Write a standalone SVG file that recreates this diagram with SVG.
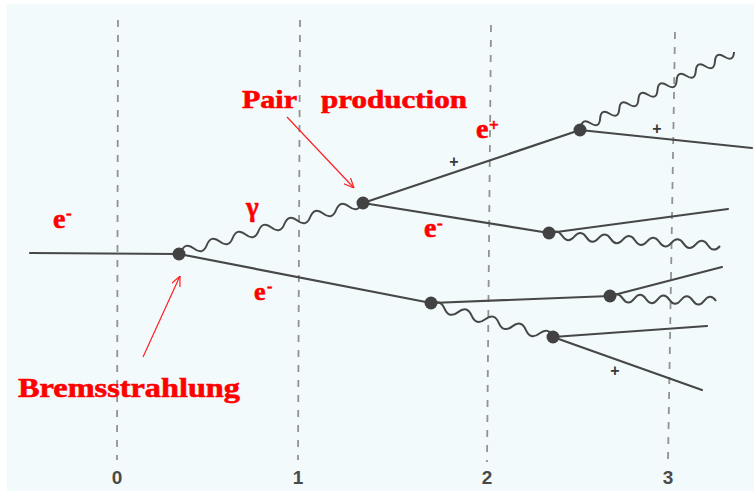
<svg xmlns="http://www.w3.org/2000/svg" width="754" height="491" viewBox="0 0 754 491">
<style>
.grid{stroke:#929292;stroke-width:1.8;stroke-dasharray:7 8;fill:none}
.el{stroke:#474747;stroke-width:2.2;fill:none;stroke-linecap:round}
.ph{stroke:#474747;stroke-width:2;fill:none}
.dot{fill:#424242}
.lbl{font-family:"Liberation Serif","Times New Roman",serif;font-weight:bold;fill:#ff0000;stroke:#ff0000;stroke-width:0.6}
.num{font-family:"Liberation Sans",Arial,sans-serif;font-weight:bold;fill:#4a4a4a;font-size:19px;text-anchor:middle}
.plus{font-family:"Liberation Sans",Arial,sans-serif;font-weight:bold;fill:#3a3a3a;font-size:16px;text-anchor:middle}
.arr{stroke:#ff2020;stroke-width:1.2;fill:none}
</style>
<defs>
<marker id="ah" viewBox="0 0 10 10" refX="10" refY="5" markerWidth="10" markerHeight="10" markerUnits="userSpaceOnUse" orient="auto">
<path d="M0,0.5 L10,5 L0,9.5" fill="none" stroke="#ff2020" stroke-width="1.2"/>
</marker>
</defs>
<rect width="754" height="491" fill="#ffffff"/>
<rect x="7" y="4" width="747" height="487" fill="#f3fafc"/>
<g id="axis">
<line class="grid" x1="118" y1="20" x2="117" y2="460"/>
<line class="grid" x1="300" y1="20" x2="298" y2="460"/>
<line class="grid" x1="491" y1="25" x2="487" y2="462"/>
<line class="grid" x1="675" y1="32" x2="668" y2="462"/>
<text class="num" x="117" y="484">0</text>
<text class="num" x="298" y="484">1</text>
<text class="num" x="487" y="484">2</text>
<text class="num" x="668" y="484">3</text>
</g>
<g id="connectors">
<line class="el" x1="30" y1="253" x2="179" y2="254"/>
<line class="el" x1="179" y1="254" x2="431" y2="303"/>
<line class="el" x1="363" y1="203" x2="580" y2="130"/>
<line class="el" x1="363" y1="203" x2="549" y2="233"/>
<line class="el" x1="580" y1="130" x2="752" y2="148"/>
<line class="el" x1="549" y1="233" x2="728" y2="209"/>
<line class="el" x1="431" y1="303" x2="610" y2="296"/>
<line class="el" x1="610" y1="296" x2="722" y2="267"/>
<line class="el" x1="553" y1="337" x2="707" y2="326"/>
<line class="el" x1="553" y1="337" x2="702" y2="390"/>
<path class="ph" transform="translate(181,252) rotate(-15.15)" d="M0,0 q6.7,-9 13.39,0 t13.39,0 t13.39,0 t13.39,0 t13.39,0 t13.39,0 t13.39,0 t13.39,0 t13.39,0 t13.39,0 t13.39,0 t13.39,0 t13.39,0 t13.39,0"/>
<path class="ph" transform="translate(581,128) rotate(-26.41)" d="M0,0 q5.34,-9 10.68,0 t10.68,0 t10.68,0 t10.68,0 t10.68,0 t10.68,0 t10.68,0 t10.68,0 t10.68,0 t10.68,0 t10.68,0 t10.68,0 t10.68,0 t10.68,0 t10.68,0 t10.68,0"/>
<path class="ph" transform="translate(550,235) rotate(3.70)" d="M0,0 q6.08,-8 12.17,0 t12.17,0 t12.17,0 t12.17,0 t12.17,0 t12.17,0 t12.17,0 t12.17,0 t12.17,0 t12.17,0 t12.17,0 t12.17,0 t12.17,0 t12.17,0"/>
<path class="ph" transform="translate(431,305) rotate(14.70)" d="M0,0 q7,-9 14.01,0 t14.01,0 t14.01,0 t14.01,0 t14.01,0 t14.01,0 t14.01,0 t14.01,0 t14.01,0"/>
<path class="ph" transform="translate(611,298) rotate(1.64)" d="M0,0 q5.83,-8 11.67,0 t11.67,0 t11.67,0 t11.67,0 t11.67,0 t11.67,0 t11.67,0 t11.67,0 t11.67,0"/>
<line class="arr" x1="143" y1="357" x2="180" y2="276" marker-end="url(#ah)"/>
<line class="arr" x1="287" y1="117" x2="354" y2="188" marker-end="url(#ah)"/>
</g>
<g id="v1"><circle class="dot" cx="179" cy="254" r="6.5"/></g>
<g id="v2"><circle class="dot" cx="363" cy="203" r="6.5"/></g>
<g id="v3"><circle class="dot" cx="580" cy="130" r="6.5"/></g>
<g id="v4"><circle class="dot" cx="549" cy="233" r="6.5"/></g>
<g id="v5"><circle class="dot" cx="431" cy="303" r="6.5"/></g>
<g id="v6"><circle class="dot" cx="610" cy="296" r="6.5"/></g>
<g id="v7"><circle class="dot" cx="553" cy="337" r="6.5"/></g>
<g id="plus-signs">
<text class="plus" x="454" y="167">+</text>
<text class="plus" x="657" y="134">+</text>
<text class="plus" x="615" y="376">+</text>
</g>
<g id="labels">
<text class="lbl" font-size="28" x="53" y="228">e<tspan font-size="17" x="66" y="219">-</tspan></text>
<text class="lbl" font-size="26" x="254" y="300">e<tspan font-size="16" x="267" y="292">-</tspan></text>
<text class="lbl" font-size="28" x="424" y="237">e<tspan font-size="17" x="437" y="229">-</tspan></text>
<text class="lbl" font-size="28" x="476" y="138">e<tspan font-size="17" x="489" y="131">+</tspan></text>
<text class="lbl" font-size="27" x="246" y="216">γ</text>
<text class="lbl" font-size="25" x="242" y="108" textLength="55" lengthAdjust="spacingAndGlyphs">Pair</text>
<text class="lbl" font-size="25" x="321" y="108" textLength="146" lengthAdjust="spacingAndGlyphs">production</text>
<text class="lbl" font-size="27" x="18" y="397" textLength="222" lengthAdjust="spacingAndGlyphs">Bremsstrahlung</text>
</g>
</svg>
